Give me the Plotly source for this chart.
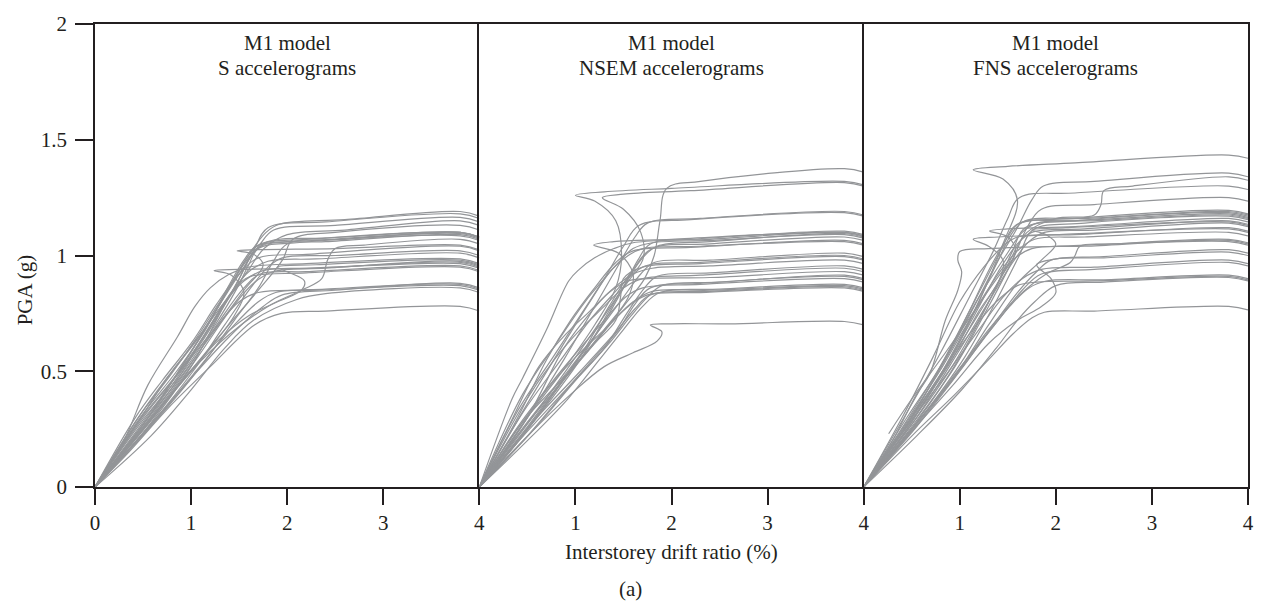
import plotly.graph_objects as go

# Incremental dynamic analysis curves: interstorey drift ratio (%) vs PGA (g)
# Each curve is ([drift values], [PGA values]).

S_CURVES = [
    ([0, 0.48, 0.75, 1.05, 1.3, 1.55, 1.78, 1.92, 2.6, 3.8, 4.0], [0, 0.30, 0.47, 0.63, 0.79, 0.97, 1.1, 1.135, 1.155, 1.19, 1.17]),
    ([0, 0.5, 0.9, 1.2, 1.45, 1.65, 1.8, 2.4, 3.8, 4.0], [0, 0.27, 0.5, 0.7, 0.86, 1.02, 1.12, 1.145, 1.18, 1.16]),
    ([0, 0.55, 0.95, 1.3, 1.55, 1.72, 1.86, 2.5, 3.8, 4.0], [0, 0.3, 0.55, 0.79, 0.95, 1.05, 1.11, 1.13, 1.165, 1.145]),
    ([0, 0.45, 0.8, 1.1, 1.4, 1.6, 1.76, 2.0, 2.6, 3.8, 4.0], [0, 0.28, 0.46, 0.62, 0.82, 0.94, 1.03, 1.09, 1.11, 1.15, 1.13]),
    ([0, 0.5, 0.95, 1.35, 1.7, 1.95, 2.06, 2.5, 3.8, 4.0], [0, 0.25, 0.48, 0.68, 0.85, 0.98, 1.07, 1.1, 1.13, 1.11]),
    ([0, 0.52, 0.9, 1.2, 1.45, 1.6, 1.72, 2.2, 3.8, 4.0], [0, 0.28, 0.52, 0.72, 0.9, 1.0, 1.05, 1.07, 1.1, 1.08]),
    ([0, 0.47, 0.85, 1.15, 1.38, 1.55, 1.68, 2.3, 3.8, 4.0], [0, 0.3, 0.5, 0.68, 0.86, 0.98, 1.04, 1.065, 1.095, 1.075]),
    ([0, 0.55, 1.0, 1.3, 1.5, 1.62, 1.75, 2.4, 3.8, 4.0], [0, 0.26, 0.52, 0.75, 0.9, 1.0, 1.045, 1.06, 1.09, 1.07]),
    ([0, 0.5, 0.92, 1.25, 1.48, 1.6, 1.7, 2.1, 3.8, 4.0], [0, 0.29, 0.5, 0.7, 0.86, 0.96, 1.03, 1.055, 1.085, 1.065]),
    ([0, 0.5, 0.9, 1.25, 1.55, 1.75, 1.65, 1.48, 1.7, 2.5, 3.8, 4.0], [0, 0.27, 0.48, 0.68, 0.85, 0.96, 1.005, 1.02, 1.025, 1.03, 1.045, 1.025]),
    ([0, 0.55, 1.0, 1.4, 1.8, 2.15, 2.36, 2.42, 2.5, 2.8, 3.8, 4.0], [0, 0.27, 0.5, 0.66, 0.78, 0.85, 0.9, 0.98, 1.03, 1.045, 1.07, 1.05]),
    ([0, 0.45, 0.78, 1.05, 1.3, 1.5, 1.7, 2.2, 3.8, 4.0], [0, 0.3, 0.48, 0.64, 0.8, 0.92, 0.99, 1.005, 1.04, 1.02]),
    ([0, 0.58, 1.02, 1.35, 1.62, 1.8, 1.95, 2.5, 3.8, 4.0], [0, 0.27, 0.5, 0.7, 0.86, 0.95, 0.99, 1.0, 1.02, 1.0]),
    ([0, 0.5, 0.88, 1.18, 1.42, 1.6, 1.8, 2.3, 3.8, 4.0], [0, 0.28, 0.5, 0.68, 0.84, 0.93, 0.975, 0.985, 1.01, 0.99]),
    ([0, 0.5, 0.9, 1.2, 1.45, 1.55, 1.42, 1.24, 1.5, 2.2, 3.8, 4.0], [0, 0.26, 0.45, 0.6, 0.74, 0.84, 0.915, 0.935, 0.94, 0.945, 0.965, 0.945]),
    ([0, 0.52, 0.95, 1.3, 1.6, 1.9, 2.15, 2.18, 2.0, 1.9, 2.3, 3.8, 4.0], [0, 0.26, 0.48, 0.64, 0.74, 0.8, 0.85, 0.89, 0.93, 0.95, 0.96, 0.98, 0.96]),
    ([0, 0.6, 1.05, 1.4, 1.65, 1.85, 2.4, 3.8, 4.0], [0, 0.3, 0.55, 0.76, 0.88, 0.93, 0.945, 0.975, 0.955]),
    ([0, 0.45, 0.8, 1.1, 1.35, 1.55, 1.75, 2.3, 3.8, 4.0], [0, 0.3, 0.5, 0.66, 0.8, 0.89, 0.935, 0.945, 0.97, 0.95]),
    ([0, 0.55, 0.98, 1.3, 1.55, 1.72, 2.2, 3.8, 4.0], [0, 0.28, 0.52, 0.72, 0.86, 0.92, 0.93, 0.955, 0.935]),
    ([0, 0.55, 1.0, 1.4, 1.75, 1.95, 2.5, 3.8, 4.0], [0, 0.25, 0.47, 0.65, 0.78, 0.83, 0.85, 0.88, 0.86]),
    ([0, 0.6, 1.05, 1.45, 1.7, 1.88, 2.4, 3.8, 4.0], [0, 0.28, 0.5, 0.7, 0.8, 0.84, 0.855, 0.875, 0.855]),
    ([0, 0.5, 0.85, 1.2, 1.5, 1.7, 2.3, 3.8, 4.0], [0, 0.3, 0.48, 0.66, 0.8, 0.84, 0.85, 0.87, 0.85]),
    ([0, 0.58, 1.0, 1.35, 1.65, 2.1, 2.4, 3.8, 4.0], [0, 0.22, 0.42, 0.6, 0.72, 0.81, 0.835, 0.86, 0.84]),
    ([0, 0.35, 0.76, 1.2, 1.66, 1.94, 2.4, 3.8, 4.0], [0, 0.15, 0.34, 0.52, 0.70, 0.75, 0.76, 0.78, 0.76]),
    ([0, 0.3, 0.55, 0.86, 1.04, 1.2, 1.4, 1.6, 2.2, 3.8, 4.0], [0, 0.2, 0.44, 0.65, 0.78, 0.86, 0.92, 0.95, 0.965, 0.985, 0.965]),
    ([0, 0.42, 0.7, 1.0, 1.25, 1.45, 1.62, 1.8, 2.4, 3.8, 4.0], [0, 0.3, 0.46, 0.62, 0.78, 0.9, 1.0, 1.06, 1.075, 1.1, 1.08]),
    ([0, 0.5, 0.82, 1.12, 1.35, 1.5, 1.62, 2.2, 3.8, 4.0], [0, 0.26, 0.44, 0.64, 0.8, 0.88, 0.91, 0.925, 0.95, 0.93]),
    ([0, 0.62, 1.1, 1.45, 1.7, 1.85, 2.0, 2.6, 3.8, 4.0], [0, 0.28, 0.52, 0.72, 0.86, 0.97, 1.05, 1.07, 1.1, 1.08]),
]

NSEM_CURVES = [
    ([0, 0.45, 0.85, 1.2, 1.5, 1.72, 1.82, 1.88, 1.95, 2.3, 3.8, 4.0], [0, 0.25, 0.45, 0.62, 0.78, 0.9, 1.0, 1.15, 1.29, 1.32, 1.375, 1.36]),
    ([0, 0.5, 0.9, 1.2, 1.42, 1.48, 1.42, 1.2, 1.0, 1.3, 2.0, 3.8, 4.0], [0, 0.3, 0.52, 0.7, 0.86, 1.0, 1.15, 1.235, 1.26, 1.275, 1.29, 1.32, 1.305]),
    ([0, 0.45, 0.85, 1.15, 1.45, 1.7, 1.68, 1.5, 1.28, 1.5, 2.2, 3.8, 4.0], [0, 0.32, 0.55, 0.72, 0.86, 0.98, 1.1, 1.2, 1.25, 1.265, 1.28, 1.315, 1.3]),
    ([0, 0.5, 0.88, 1.2, 1.45, 1.62, 1.75, 2.3, 3.8, 4.0], [0, 0.3, 0.55, 0.78, 0.96, 1.08, 1.14, 1.16, 1.19, 1.175]),
    ([0, 0.4, 0.75, 1.05, 1.3, 1.5, 1.66, 2.2, 3.8, 4.0], [0, 0.33, 0.55, 0.74, 0.9, 1.04, 1.13, 1.155, 1.185, 1.17]),
    ([0, 0.55, 0.95, 1.3, 1.55, 1.6, 1.45, 1.19, 1.4, 2.0, 3.8, 4.0], [0, 0.28, 0.5, 0.68, 0.82, 0.92, 1.01, 1.045, 1.06, 1.07, 1.1, 1.085]),
    ([0, 0.34, 0.45, 0.7, 0.93, 1.04, 1.2, 1.4, 1.6, 2.2, 3.8, 4.0], [0, 0.38, 0.47, 0.68, 0.89, 0.94, 0.99, 1.03, 1.055, 1.07, 1.105, 1.09]),
    ([0, 0.5, 0.9, 1.25, 1.5, 1.65, 1.78, 2.4, 3.8, 4.0], [0, 0.25, 0.48, 0.68, 0.86, 0.98, 1.05, 1.07, 1.1, 1.085]),
    ([0, 0.6, 1.05, 1.35, 1.55, 1.7, 1.85, 2.4, 3.8, 4.0], [0, 0.3, 0.55, 0.76, 0.9, 0.99, 1.04, 1.06, 1.095, 1.08]),
    ([0, 0.45, 0.8, 1.1, 1.35, 1.6, 1.8, 2.4, 3.8, 4.0], [0, 0.22, 0.42, 0.6, 0.78, 0.94, 1.03, 1.05, 1.08, 1.065]),
    ([0, 0.4, 0.7, 0.95, 1.2, 1.42, 1.6, 2.2, 3.8, 4.0], [0, 0.3, 0.55, 0.72, 0.86, 0.97, 1.02, 1.035, 1.065, 1.05]),
    ([0, 0.5, 0.92, 1.25, 1.5, 1.68, 1.82, 2.4, 3.8, 4.0], [0, 0.28, 0.5, 0.68, 0.82, 0.92, 0.97, 0.98, 1.01, 0.995]),
    ([0, 0.55, 1.0, 1.3, 1.5, 1.7, 2.3, 3.8, 4.0], [0, 0.3, 0.56, 0.74, 0.86, 0.95, 0.97, 1.0, 0.985]),
    ([0, 0.5, 0.9, 1.2, 1.42, 1.47, 1.5, 1.7, 2.3, 3.8, 4.0], [0, 0.26, 0.48, 0.62, 0.72, 0.82, 0.9, 0.95, 0.965, 0.995, 0.98]),
    ([0, 0.35, 0.62, 0.9, 1.15, 1.4, 1.6, 1.8, 2.4, 3.8, 4.0], [0, 0.3, 0.52, 0.66, 0.76, 0.86, 0.92, 0.945, 0.955, 0.98, 0.965]),
    ([0, 0.5, 0.95, 1.3, 1.55, 1.72, 1.85, 2.4, 3.8, 4.0], [0, 0.22, 0.44, 0.6, 0.76, 0.86, 0.91, 0.925, 0.955, 0.94]),
    ([0, 0.45, 0.78, 1.05, 1.3, 1.5, 1.7, 2.3, 3.8, 4.0], [0, 0.35, 0.55, 0.68, 0.78, 0.86, 0.9, 0.915, 0.945, 0.93]),
    ([0, 0.55, 1.0, 1.35, 1.58, 1.75, 1.9, 2.5, 3.8, 4.0], [0, 0.24, 0.46, 0.62, 0.74, 0.82, 0.87, 0.885, 0.915, 0.9]),
    ([0, 0.5, 0.9, 1.2, 1.45, 1.62, 1.78, 2.3, 3.8, 4.0], [0, 0.24, 0.42, 0.56, 0.68, 0.79, 0.86, 0.88, 0.91, 0.895]),
    ([0, 0.4, 0.75, 1.05, 1.3, 1.52, 1.7, 2.3, 3.8, 4.0], [0, 0.26, 0.45, 0.6, 0.72, 0.82, 0.86, 0.875, 0.9, 0.885]),
    ([0, 0.5, 0.92, 1.25, 1.5, 1.7, 1.88, 2.5, 3.8, 4.0], [0, 0.2, 0.38, 0.55, 0.68, 0.78, 0.84, 0.855, 0.875, 0.86]),
    ([0, 0.45, 0.85, 1.15, 1.4, 1.6, 1.8, 2.4, 3.8, 4.0], [0, 0.28, 0.46, 0.6, 0.72, 0.8, 0.845, 0.85, 0.87, 0.855]),
    ([0, 0.6, 1.05, 1.4, 1.62, 1.78, 2.4, 3.8, 4.0], [0, 0.3, 0.5, 0.66, 0.77, 0.83, 0.845, 0.865, 0.85]),
    ([0, 0.38, 0.7, 1.0, 1.3, 1.55, 1.75, 2.3, 3.8, 4.0], [0, 0.24, 0.42, 0.56, 0.68, 0.78, 0.83, 0.84, 0.86, 0.845]),
    ([0, 0.5, 0.95, 1.3, 1.6, 1.85, 1.9, 1.78, 2.0, 2.6, 3.8, 4.0], [0, 0.22, 0.4, 0.52, 0.58, 0.63, 0.67, 0.7, 0.705, 0.705, 0.715, 0.7]),
    ([0, 0.5, 0.85, 1.15, 1.38, 1.55, 1.7, 2.3, 3.8, 4.0], [0, 0.36, 0.6, 0.8, 0.94, 1.0, 1.03, 1.04, 1.06, 1.045]),
    ([0, 0.5, 0.88, 1.15, 1.35, 1.55, 1.75, 2.4, 3.8, 4.0], [0, 0.3, 0.6, 0.75, 0.84, 0.89, 0.9, 0.905, 0.93, 0.915]),
    ([0, 0.45, 0.8, 1.1, 1.3, 1.45, 1.6, 1.8, 2.4, 3.8, 4.0], [0, 0.4, 0.62, 0.8, 0.9, 0.97, 1.03, 1.055, 1.065, 1.09, 1.075]),
]

FNS_CURVES = [
    ([0, 0.5, 0.9, 1.2, 1.45, 1.6, 1.45, 1.14, 1.5, 2.2, 3.8, 4.0], [0, 0.28, 0.55, 0.8, 1.05, 1.24, 1.33, 1.37, 1.385, 1.4, 1.434, 1.42]),
    ([0, 0.45, 0.85, 1.15, 1.4, 1.6, 1.75, 1.87, 2.4, 3.8, 4.0], [0, 0.3, 0.55, 0.78, 0.98, 1.12, 1.24, 1.3, 1.32, 1.356, 1.34]),
    ([0, 0.5, 0.92, 1.25, 1.5, 1.7, 2.0, 2.4, 2.47, 2.5, 2.8, 3.8, 4.0], [0, 0.27, 0.52, 0.76, 0.96, 1.1, 1.16, 1.175, 1.22, 1.28, 1.3, 1.34, 1.325]),
    ([0, 0.42, 0.8, 1.1, 1.35, 1.5, 1.62, 2.2, 3.8, 4.0], [0, 0.3, 0.58, 0.82, 1.02, 1.16, 1.25, 1.27, 1.3, 1.285]),
    ([0, 0.5, 0.95, 1.3, 1.55, 1.7, 1.85, 2.4, 3.8, 4.0], [0, 0.26, 0.52, 0.78, 0.98, 1.12, 1.2, 1.22, 1.25, 1.235]),
    ([0, 0.5, 0.9, 1.25, 1.45, 1.58, 2.2, 3.8, 4.0], [0, 0.3, 0.6, 0.88, 1.04, 1.13, 1.16, 1.195, 1.18]),
    ([0, 0.45, 0.82, 1.15, 1.4, 1.55, 1.68, 2.3, 3.8, 4.0], [0, 0.25, 0.5, 0.76, 0.98, 1.1, 1.15, 1.16, 1.19, 1.175]),
    ([0, 0.55, 1.0, 1.35, 1.55, 1.68, 2.2, 3.8, 4.0], [0, 0.28, 0.56, 0.84, 1.02, 1.12, 1.15, 1.185, 1.17]),
    ([0, 0.4, 0.78, 1.1, 1.32, 1.5, 1.62, 2.2, 3.8, 4.0], [0, 0.24, 0.5, 0.76, 0.95, 1.08, 1.14, 1.15, 1.18, 1.165]),
    ([0, 0.5, 0.88, 1.2, 1.48, 1.65, 1.8, 2.4, 3.8, 4.0], [0, 0.32, 0.58, 0.82, 1.0, 1.1, 1.14, 1.15, 1.175, 1.16]),
    ([0, 0.6, 1.05, 1.4, 1.62, 1.76, 2.3, 3.8, 4.0], [0, 0.3, 0.56, 0.82, 1.0, 1.11, 1.14, 1.17, 1.155]),
    ([0, 0.5, 0.9, 1.2, 1.45, 1.58, 1.5, 1.31, 1.5, 2.2, 3.8, 4.0], [0, 0.3, 0.55, 0.75, 0.92, 1.02, 1.08, 1.106, 1.115, 1.125, 1.16, 1.145]),
    ([0, 0.45, 0.85, 1.15, 1.4, 1.6, 1.75, 2.3, 3.8, 4.0], [0, 0.27, 0.52, 0.74, 0.93, 1.05, 1.1, 1.115, 1.15, 1.135]),
    ([0, 0.5, 0.95, 1.3, 1.6, 1.85, 2.0, 1.9, 1.75, 2.1, 3.8, 4.0], [0, 0.25, 0.48, 0.7, 0.88, 0.98, 1.05, 1.09, 1.11, 1.12, 1.145, 1.13]),
    ([0, 0.55, 0.98, 1.3, 1.55, 1.72, 1.88, 2.4, 3.8, 4.0], [0, 0.3, 0.58, 0.8, 0.97, 1.06, 1.1, 1.11, 1.14, 1.125]),
    ([0, 0.4, 0.72, 1.0, 1.25, 1.45, 1.6, 2.2, 3.8, 4.0], [0, 0.3, 0.56, 0.8, 0.95, 1.04, 1.08, 1.09, 1.12, 1.105]),
    ([0, 0.5, 0.92, 1.2, 1.42, 1.45, 1.3, 1.14, 1.4, 2.0, 3.8, 4.0], [0, 0.29, 0.55, 0.76, 0.9, 0.98, 1.04, 1.07, 1.08, 1.09, 1.115, 1.1]),
    ([0, 0.5, 0.95, 1.3, 1.6, 1.9, 2.15, 2.2, 2.25, 2.6, 3.8, 4.0], [0, 0.25, 0.48, 0.68, 0.82, 0.92, 0.97, 1.0, 1.04, 1.05, 1.07, 1.055]),
    ([0, 0.45, 0.82, 1.1, 1.35, 1.55, 1.75, 2.3, 3.8, 4.0], [0, 0.28, 0.52, 0.72, 0.88, 0.98, 1.03, 1.04, 1.065, 1.05]),
    ([0, 0.3, 0.55, 0.69, 0.85, 0.98, 1.02, 0.98, 1.0, 1.3, 2.0, 3.8, 4.0], [0, 0.2, 0.4, 0.49, 0.72, 0.85, 0.93, 0.98, 1.017, 1.03, 1.04, 1.06, 1.045]),
    ([0, 0.55, 1.0, 1.35, 1.6, 1.8, 1.95, 2.5, 3.8, 4.0], [0, 0.26, 0.5, 0.7, 0.84, 0.93, 0.98, 0.995, 1.025, 1.01]),
    ([0, 0.5, 0.95, 1.3, 1.6, 1.85, 2.0, 1.95, 1.8, 2.0, 2.5, 3.8, 4.0], [0, 0.24, 0.45, 0.62, 0.72, 0.78, 0.84, 0.9, 0.96, 0.985, 0.99, 1.015, 1.0]),
    ([0, 0.45, 0.85, 1.2, 1.45, 1.65, 1.85, 2.4, 3.8, 4.0], [0, 0.26, 0.48, 0.68, 0.82, 0.9, 0.94, 0.95, 0.98, 0.965]),
    ([0, 0.6, 1.05, 1.4, 1.65, 1.85, 2.4, 3.8, 4.0], [0, 0.3, 0.54, 0.72, 0.85, 0.92, 0.94, 0.97, 0.955]),
    ([0, 0.5, 0.92, 1.25, 1.52, 1.72, 1.9, 2.5, 3.8, 4.0], [0, 0.24, 0.46, 0.64, 0.78, 0.86, 0.89, 0.895, 0.915, 0.9]),
    ([0, 0.42, 0.8, 1.1, 1.38, 1.6, 1.8, 2.4, 3.8, 4.0], [0, 0.25, 0.48, 0.66, 0.8, 0.87, 0.885, 0.89, 0.91, 0.895]),
    ([0, 0.55, 1.02, 1.38, 1.6, 1.78, 2.0, 2.5, 3.8, 4.0], [0, 0.22, 0.42, 0.6, 0.72, 0.8, 0.87, 0.885, 0.905, 0.89]),
    ([0, 0.5, 0.95, 1.3, 1.55, 1.75, 1.88, 2.4, 3.8, 4.0], [0, 0.22, 0.4, 0.55, 0.66, 0.73, 0.755, 0.76, 0.78, 0.765]),
    ([0.26, 0.5, 0.85, 1.15, 1.4, 1.6, 1.78, 2.3, 3.8, 4.0], [0.23, 0.38, 0.58, 0.76, 0.92, 1.02, 1.07, 1.08, 1.1, 1.085]),
]

PANELS = [
    ("S accelerograms", S_CURVES),
    ("NSEM accelerograms", NSEM_CURVES),
    ("FNS accelerograms", FNS_CURVES),
]

Y_TICKS = [0, 0.5, 1, 1.5, 2]
Y_TICK_TEXT = ["0", "0.5", "1", "1.5", "2"]
X_TICKS_FIRST = [0, 1, 2, 3, 4]
X_TICKS_OTHER = [1, 2, 3, 4]

INK = "#231f20"
CURVE = "#939598"
FONT = "Liberation Serif"
FS = 21

fig = go.Figure()

for i, (label, curves) in enumerate(PANELS):
    suffix = "" if i == 0 else str(i + 1)
    for xs, ys in curves:
        fig.add_trace(go.Scatter(
            x=xs, y=ys, mode="lines",
            line=dict(color=CURVE, width=1.2, shape="spline", smoothing=1.0),
            xaxis="x" + suffix, yaxis="y" + suffix,
            showlegend=False, hoverinfo="skip",
        ))
    fig.add_annotation(text="M1 model", x=2, y=1.92, xref="x" + suffix, yref="y" + suffix,
                       showarrow=False, font=dict(family=FONT, size=FS, color=INK))
    fig.add_annotation(text=label, x=2, y=1.81, xref="x" + suffix, yref="y" + suffix,
                       showarrow=False, font=dict(family=FONT, size=FS, color=INK))

axis_common = dict(
    range=[0, 4], showgrid=False, zeroline=False,
    showline=True, linecolor=INK, linewidth=1.5, mirror=True,
    ticks="outside", ticklen=16, tickwidth=1.5, tickcolor=INK,
    tickfont=dict(family=FONT, size=FS, color=INK),
)
y_common = dict(
    range=[0, 2], showgrid=False, zeroline=False,
    showline=True, linecolor=INK, linewidth=1.5,
)

third = 1 / 3
fig.update_layout(
    width=1266, height=605,
    margin=dict(l=95, r=13, t=17, b=118),
    paper_bgcolor="white", plot_bgcolor="white",
    xaxis=dict(domain=[0, third], anchor="y", tickvals=X_TICKS_FIRST, **axis_common),
    xaxis2=dict(domain=[third, 2 * third], anchor="y2", tickvals=X_TICKS_OTHER, **axis_common),
    xaxis3=dict(domain=[2 * third, 1], anchor="y3", tickvals=X_TICKS_OTHER, **axis_common),
    yaxis=dict(anchor="x", tickvals=Y_TICKS, ticktext=Y_TICK_TEXT,
               ticks="outside", ticklen=18, tickwidth=1.5, tickcolor=INK, ticklabelstandoff=4,
               tickfont=dict(family=FONT, size=FS, color=INK), **y_common),
    yaxis2=dict(anchor="x2", showticklabels=False, ticks="", **y_common),
    yaxis3=dict(anchor="x3", showticklabels=False, ticks="", mirror=True, **y_common),
)

fig.add_annotation(text="Interstorey drift ratio (%)", x=0.5, y=-0.1404, xref="paper", yref="paper",
                   showarrow=False, yanchor="middle", font=dict(family=FONT, size=FS, color=INK))
fig.add_annotation(text="(a)", x=0.4646, y=-0.2213, xref="paper", yref="paper",
                   showarrow=False, yanchor="middle", font=dict(family=FONT, size=FS, color=INK))
fig.add_annotation(text="PGA (g)", x=-0.0604, y=0.4255, xref="paper", yref="paper", textangle=-90,
                   showarrow=False, xanchor="center", yanchor="middle",
                   font=dict(family=FONT, size=FS, color=INK))

fig.write_html("out.html")
